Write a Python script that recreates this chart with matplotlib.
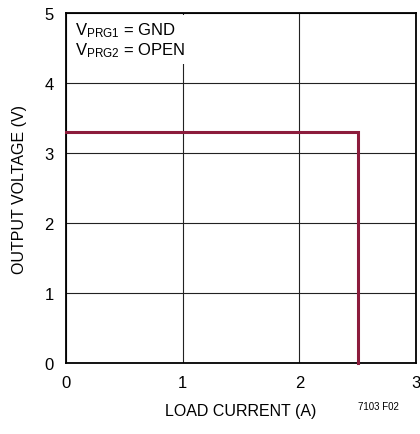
import matplotlib
matplotlib.use("Agg")
import matplotlib.pyplot as plt
from matplotlib import font_manager

names = {f.name for f in font_manager.fontManager.ttflist}
fam = "Liberation Sans Narrow" if "Liberation Sans Narrow" in names else "Liberation Sans"
plt.rcParams['font.family'] = [fam, 'DejaVu Sans']
plt.rcParams['mathtext.fontset'] = 'custom'
plt.rcParams['mathtext.rm'] = fam

load_current = [0.0, 2.5, 2.5]
output_voltage = [3.3, 3.3, 0.0]
xticks = [0, 1, 2, 3]
yticks = [0, 1, 2, 3, 4, 5]

fig = plt.figure(figsize=(4.2, 4.35), dpi=100)
ax = fig.add_axes([66/420, 1-364/435, 350/420, 350/435])
ax.set_xlim(0, 3)
ax.set_ylim(0, 5)
ax.set_xticks(xticks)
ax.set_yticks(yticks)
ax.tick_params(length=0, labelsize=12, pad=9)
ax.grid(True, color='#222222', linewidth=0.8)
ax.set_axisbelow(True)
for s in ax.spines.values():
    s.set_linewidth(1.3)
ax.plot(load_current, output_voltage, color='#8c1c3c', linewidth=2.2, solid_joinstyle='miter', clip_on=False, zorder=3)
ax.set_xlabel('LOAD CURRENT (A)', fontsize=11.5, labelpad=9)
ax.set_ylabel('OUTPUT VOLTAGE (V)', fontsize=11.5, labelpad=12)
ax.text(0.025, 0.98, r'$\mathregular{V_{PRG1}}$ = GND' + '\n' + r'$\mathregular{V_{PRG2}}$ = OPEN',
        transform=ax.transAxes, va='top', ha='left', fontsize=12, linespacing=1.1,
        bbox=dict(facecolor='white', edgecolor='none', pad=4), zorder=2)
fig.text(399/420, 1-407/435, '7103 F02', fontsize=7, ha='right', va='center')
fig.savefig('out.png', dpi=100)
